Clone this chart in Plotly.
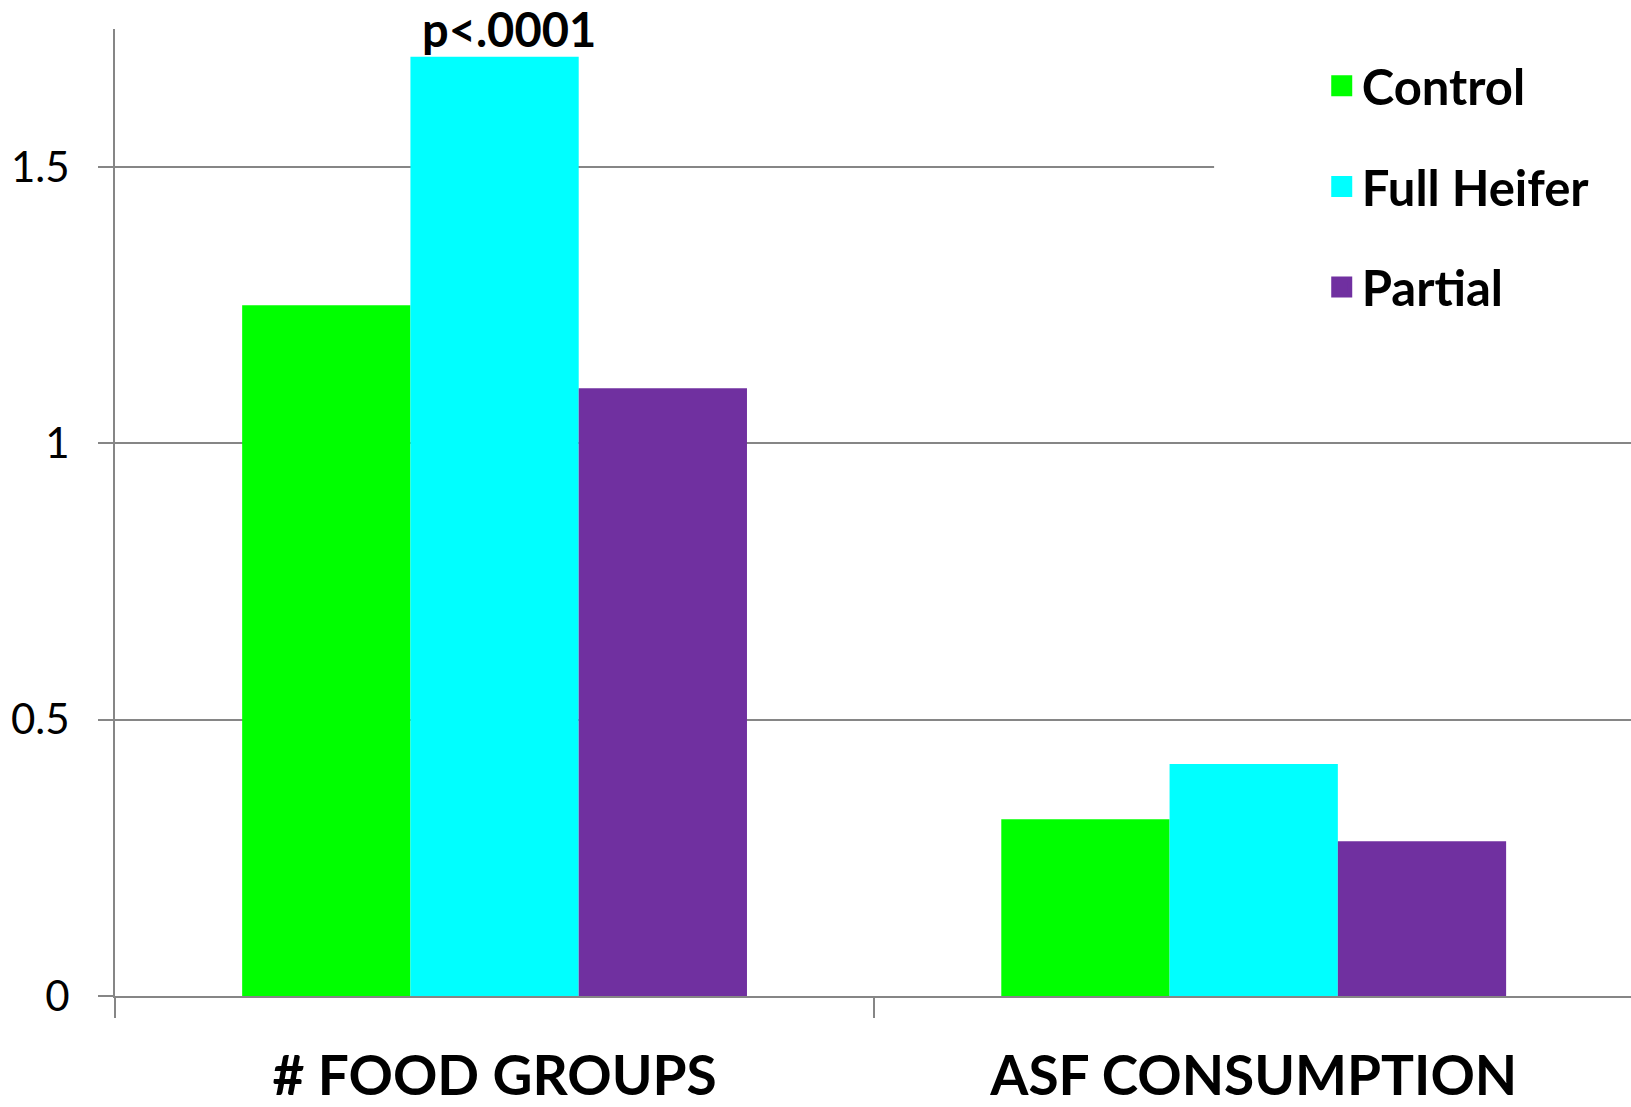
import plotly.graph_objects as go

categories = ["# FOOD GROUPS", "ASF CONSUMPTION"]
series_names = ["Control", "Full Heifer", "Partial"]
control = [1.25, 0.32]
full_heifer = [1.70, 0.42]
partial = [1.10, 0.28]
series_values = [control, full_heifer, partial]
colors = ["#00FF00", "#00FFFF", "#7030A0"]
y_tick_vals = [0, 0.5, 1, 1.5]
y_tick_text = ["0", "0.5", "1", "1.5"]
annotation_text = "p<.0001"

W, H = 1631, 1107
ML, MR, MT, MB = 115, 0, 29, 106
GRID = "#868686"

fig = go.Figure()
for name, vals, col in zip(series_names, series_values, colors):
    fig.add_trace(go.Bar(x=categories, y=vals, name=name, marker=dict(color=col, line=dict(width=0)),
                         showlegend=False))
# legend entries (square swatches)
for i, (name, col) in enumerate(zip(series_names, colors)):
    fig.add_trace(go.Scatter(x=[None], y=[None], mode="markers", name=name, legendgroup=str(i),
                             marker=dict(symbol="square", size=16, color=col, line=dict(color=col, width=5))))

fig.add_annotation(x=categories[0], y=full_heifer[0], text="<b>" + annotation_text + "</b>",
                   showarrow=False, yanchor="bottom", xshift=14, yshift=-2,
                   font=dict(family="Lato", size=47, color="black"))

# white mask behind legend (legend box hides the gridline in the reference)
fig.add_shape(type="rect", xref="paper", yref="paper", x0=0.725, x1=1.0, y0=0.70, y1=0.97,
              fillcolor="white", line=dict(width=0), layer="above")

fig.update_layout(
    width=W, height=H,
    margin=dict(l=ML, r=MR, t=MT, b=MB, pad=0),
    paper_bgcolor="white", plot_bgcolor="white",
    barmode="group", bargap=0.335, bargroupgap=0,
    font=dict(family="Lato", color="black"),
    legend=dict(x=0.796, y=0.981, xanchor="left", yanchor="top", bgcolor="rgba(0,0,0,0)",
                font=dict(family="Lato", size=49, color="black", weight="bold"),
                tracegroupgap=34, itemclick=False),
    showlegend=True,
)
fig.update_xaxes(
    range=[-0.5, 1.497],
    showline=True, linecolor=GRID, linewidth=2,
    ticks="outside", tickson="boundaries", ticklen=20, tickcolor=GRID, tickwidth=2,
    tickfont=dict(family="Lato", size=55, color="black", weight="bold"),
    ticklabelstandoff=31,
    showgrid=False, fixedrange=True,
)
fig.update_yaxes(
    range=[0, 1.75], tickvals=y_tick_vals, ticktext=y_tick_text,
    showline=True, linecolor=GRID, linewidth=2,
    ticks="outside", ticklen=15, tickcolor=GRID, tickwidth=2,
    showgrid=True, gridcolor=GRID, gridwidth=2, zeroline=False,
    tickfont=dict(family="Lato", size=42, color="black"),
    ticklabelstandoff=20, fixedrange=True,
)

fig.write_html("out.html", config={"displayModeBar": False},
               post_script="document.body.style.margin='0';document.body.style.overflow='hidden';")
